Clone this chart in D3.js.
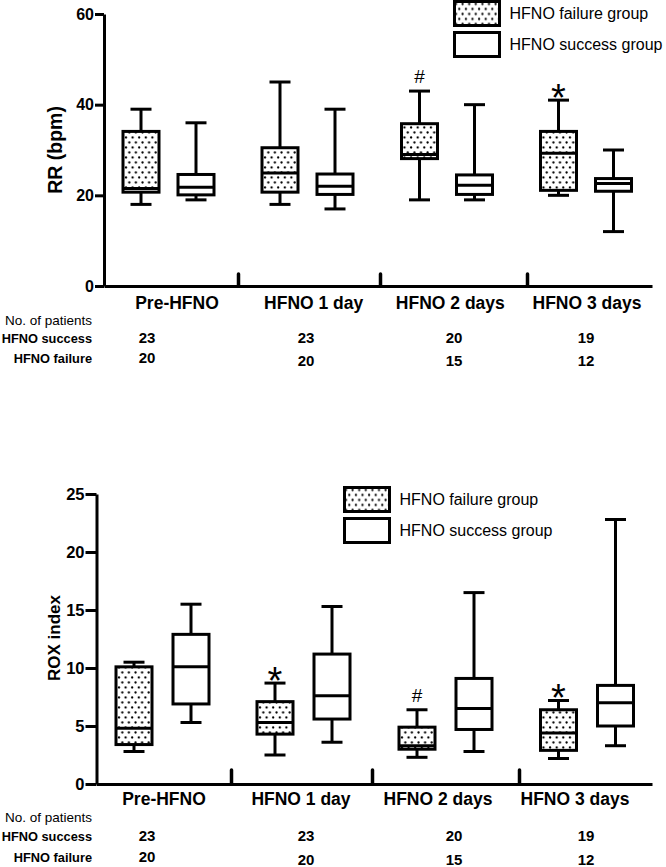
<!DOCTYPE html>
<html><head><meta charset="utf-8">
<script src="https://cdn.jsdelivr.net/npm/d3@7"></script>
<style>
body{margin:0;background:#fff}
svg{display:block}
text{font-family:"Liberation Sans",Arial,Helvetica,sans-serif;fill:#000}
</style>
</head><body>
<svg id="chart" width="666" height="867"></svg>
<script>
// ---------- data ----------
const categories = ["Pre-HFNO", "HFNO 1 day", "HFNO 2 days", "HFNO 3 days"];
const seriesNames = ["HFNO failure group", "HFNO success group"];
// [min, q1, median, q3, max]
const rrFailure = [[18, 20.7, 21.5, 34.1, 39], [18, 20.7, 24.9, 30.5, 45], [19, 28.1, 29, 35.8, 43], [20, 21.1, 29.3, 34.1, 41]];
const rrSuccess = [[19, 20.1, 21.8, 24.6, 36], [17, 20.2, 22, 24.7, 39], [19, 20.2, 22.2, 24.5, 40], [12, 20.9, 22.6, 23.7, 30]];
const roxFailure = [[2.8, 3.4, 4.8, 10.1, 10.5], [2.5, 4.3, 5.3, 7.1, 8.7], [2.3, 3.0, 3.3, 4.9, 6.4], [2.2, 2.9, 4.4, 6.4, 7.2]];
const roxSuccess = [[5.3, 6.9, 10.1, 12.9, 15.5], [3.6, 5.6, 7.6, 11.2, 15.3], [2.8, 4.7, 6.5, 9.1, 16.5], [3.3, 5.0, 7.0, 8.5, 22.8]];
const rrMarks = ["", "", "#", "*"];
const roxMarks = ["", "*", "#", "*"];
const rrTicks = [0, 20, 40, 60];
const roxTicks = [0, 5, 10, 15, 20, 25];
const patientsSuccess = [23, 23, 20, 19];
const patientsFailure = [20, 20, 15, 12];
const rowLabels = ["No. of patients", "HFNO success", "HFNO failure"];

// ---------- drawing ----------
const svg = d3.select("#chart");
const defs = svg.append("defs");
const pat = defs.append("pattern").attr("id", "dots").attr("patternUnits", "userSpaceOnUse")
  .attr("width", 6.6).attr("height", 10);
pat.append("rect").attr("width", 6.6).attr("height", 10).attr("fill", "#fff");
pat.append("circle").attr("cx", 1.5).attr("cy", 2.5).attr("r", 1.15).attr("fill", "#000");
pat.append("circle").attr("cx", 4.8).attr("cy", 7.5).attr("r", 1.15).attr("fill", "#000");

const knots = [-1, 0, 0.5, 1, 1.5, 2, 2.5, 3, 3.5];

function panel(cfg) {
  const g = svg.append("g");
  const x = d3.scaleLinear().domain(knots).range(cfg.xRange);
  const y = d3.scaleLinear().domain([0, d3.max(cfg.ticks)]).range(cfg.yRange);
  const xl = d3.scaleLinear().domain([0, 3]).range(cfg.labelRange);
  const xn = d3.scaleLinear().domain([0, 1, 2, 3]).range([147, 306, 454, 586]);
  const x0 = x(knots[0]);

  // y axis
  const ya = g.append("g").attr("transform", `translate(${x0},0)`)
    .call(d3.axisLeft(y).tickValues(cfg.ticks).tickSize(cfg.tickLen).tickSizeOuter(0).tickPadding(1));
  ya.select(".domain").attr("stroke-width", 3).attr("stroke", "#000");
  ya.selectAll(".tick line").attr("stroke-width", 3).attr("stroke", "#000");
  ya.selectAll(".tick text").attr("font-family", "Liberation Sans, Arial, sans-serif")
    .attr("font-weight", "bold").attr("font-size", cfg.tickFont).attr("fill", "#000");

  // x axis with group separators
  const xa = g.append("g").attr("transform", `translate(0,${y(0)})`)
    .call(d3.axisBottom(x).tickValues([0.5, 1.5, 2.5]).tickSize(-cfg.sepLen).tickSizeOuter(0).tickFormat(""));
  xa.select(".domain").attr("stroke-width", 3).attr("stroke", "#000");
  xa.selectAll(".tick line").attr("stroke-width", 3.5).attr("stroke", "#000").attr("stroke-linecap", "round");

  // boxes
  const bw = 36, cap = 21, off = cfg.offset;
  const series = [{ data: cfg.failure, dx: -off, fill: "url(#dots)" }, { data: cfg.success, dx: off, fill: "#fff" }];
  series.forEach(s => {
    const bg = g.append("g").selectAll("g").data(s.data).join("g")
      .attr("transform", (d, i) => `translate(${x(i) + s.dx},0)`);
    bg.append("line").attr("x1", 0).attr("x2", 0).attr("y1", d => y(d[0])).attr("y2", d => y(d[4]))
      .attr("stroke", "#000").attr("stroke-width", 3);
    bg.append("line").attr("x1", -cap / 2).attr("x2", cap / 2).attr("y1", d => y(d[0])).attr("y2", d => y(d[0]))
      .attr("stroke", "#000").attr("stroke-width", 3);
    bg.append("line").attr("x1", -cap / 2).attr("x2", cap / 2).attr("y1", d => y(d[4])).attr("y2", d => y(d[4]))
      .attr("stroke", "#000").attr("stroke-width", 3);
    bg.append("rect").attr("x", -bw / 2).attr("width", bw).attr("y", d => y(d[3])).attr("height", d => y(d[1]) - y(d[3]))
      .attr("fill", s.fill).attr("stroke", "#000").attr("stroke-width", 3);
    bg.append("line").attr("x1", -bw / 2).attr("x2", bw / 2).attr("y1", d => y(d[2])).attr("y2", d => y(d[2]))
      .attr("stroke", "#000").attr("stroke-width", 3);
  });

  // significance marks
  g.append("g").selectAll("text").data(cfg.marks).join("text")
    .attr("x", (d, i) => x(i) - off)
    .attr("y", (d, i) => y(cfg.failure[i][4]) - (d === "*" ? -11 : 8))
    .attr("text-anchor", "middle")
    .attr("font-size", d => d === "*" ? 38 : 19)
    .text(d => d);

  // y label
  g.append("text").attr("transform", `translate(${cfg.ylabX},${cfg.ylabY}) rotate(-90)`)
    .attr("text-anchor", "middle").attr("font-weight", "bold").attr("font-size", cfg.ylabFont).text(cfg.ylabel);

  // category labels
  g.append("g").selectAll("text").data(categories).join("text")
    .attr("x", (d, i) => xl(i)).attr("y", cfg.catY).attr("text-anchor", "middle")
    .attr("font-weight", "bold").attr("font-size", 17.5).text(d => d);

  // patient table
  g.append("text").attr("x", 92).attr("y", cfg.rowY[0]).attr("text-anchor", "end").attr("font-size", 13.5).text(rowLabels[0]);
  g.append("text").attr("x", 92).attr("y", cfg.rowY[1]).attr("text-anchor", "end").attr("font-size", 12.8).attr("font-weight", "bold").text(rowLabels[1]);
  g.append("text").attr("x", 92).attr("y", cfg.rowY[2]).attr("text-anchor", "end").attr("font-size", 12.8).attr("font-weight", "bold").text(rowLabels[2]);
  g.append("g").selectAll("text").data(patientsSuccess).join("text")
    .attr("x", (d, i) => xn(i)).attr("y", cfg.rowY[1]).attr("text-anchor", "middle")
    .attr("font-size", 15).attr("font-weight", "bold").text(d => d);
  g.append("g").selectAll("text").data(patientsFailure).join("text")
    .attr("x", (d, i) => xn(i)).attr("y", (d, i) => cfg.rowY[2] + (i === 0 ? 0 : 3)).attr("text-anchor", "middle")
    .attr("font-size", 15).attr("font-weight", "bold").text(d => d);

  // legend
  const lg = g.append("g").attr("transform", `translate(${cfg.legX},${cfg.legY})`);
  const items = lg.selectAll("g").data(seriesNames).join("g").attr("transform", (d, i) => `translate(0,${i * 31})`);
  items.append("rect").attr("x", 0).attr("y", 0).attr("width", 45).attr("height", 24)
    .attr("fill", (d, i) => i === 0 ? "url(#dots)" : "#fff").attr("stroke", "#000").attr("stroke-width", 3);
  items.append("text").attr("x", 55).attr("y", 17.5).attr("font-size", 16).text(d => d);
}

panel({
  failure: rrFailure, success: rrSuccess, marks: rrMarks, ticks: rrTicks,
  xRange: [104, 168.5, 238, 307.5, 380, 447, 527, 586, 652],
  yRange: [286, 14], labelRange: [177, 587], offset: 27.5,
  tickLen: 9, tickFont: 16, sepLen: 12,
  ylabel: "RR (bpm)", ylabX: 61.5, ylabY: 150, ylabFont: 19.5,
  catY: 309, rowY: [325, 343, 363],
  legX: 454.5, legY: 1.5
});

panel({
  failure: roxFailure, success: roxSuccess, marks: roxMarks, ticks: roxTicks,
  xRange: [96.5, 162.5, 231, 303.5, 372, 445.5, 519, 587, 652],
  yRange: [784, 494], labelRange: [164, 575], offset: 28.5,
  tickLen: 11, tickFont: 16.5, sepLen: 14,
  ylabel: "ROX index", ylabX: 60, ylabY: 638, ylabFont: 17,
  catY: 805, rowY: [822, 841, 862],
  legX: 344.5, legY: 487.5
});
</script>
</body></html>
